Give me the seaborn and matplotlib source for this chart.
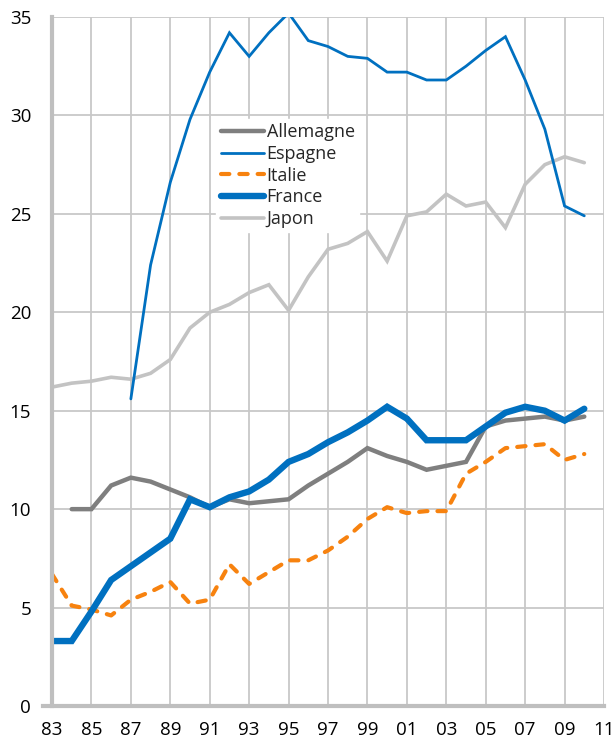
import numpy as np
import pandas as pd
import matplotlib
matplotlib.use("Agg")
import matplotlib.pyplot as plt
import seaborn as sns

# DATA
years = list(range(1983, 2011))
allemagne = [None, 10.0, 10.0, 11.2, 11.6, 11.4, 11.0, 10.6, 10.1, 10.5, 10.3, 10.4, 10.5, 11.2,
             11.8, 12.4, 13.1, 12.7, 12.4, 12.0, 12.2, 12.4, 14.2, 14.5, 14.6, 14.7, 14.5, 14.7]
espagne = [None, None, None, None, 15.6, 22.4, 26.6, 29.8, 32.2, 34.2, 33.0, 34.2, 35.2, 33.8,
           33.5, 33.0, 32.9, 32.2, 32.2, 31.8, 31.8, 32.5, 33.3, 34.0, 31.8, 29.3, 25.4, 24.9]
italie = [6.7, 5.1, 4.9, 4.6, 5.4, 5.8, 6.3, 5.2, 5.4, 7.2, 6.2, 6.8, 7.4, 7.4,
          7.9, 8.6, 9.5, 10.1, 9.8, 9.9, 9.9, 11.8, 12.4, 13.1, 13.2, 13.3, 12.5, 12.8]
france = [3.3, 3.3, 4.8, 6.4, 7.1, 7.8, 8.5, 10.5, 10.1, 10.6, 10.9, 11.5, 12.4, 12.8,
          13.4, 13.9, 14.5, 15.2, 14.6, 13.5, 13.5, 13.5, 14.2, 14.9, 15.2, 15.0, 14.5, 15.1]
japon = [16.2, 16.4, 16.5, 16.7, 16.6, 16.9, 17.6, 19.2, 20.0, 20.4, 21.0, 21.4, 20.1, 21.8,
         23.2, 23.5, 24.1, 22.6, 24.9, 25.1, 26.0, 25.4, 25.6, 24.3, 26.5, 27.5, 27.9, 27.6]
xtick_years = list(range(1983, 2012, 2))
xtick_labels = [f"{y % 100:02d}" for y in xtick_years]

sns.set_theme(style="white")
plt.rcParams['font.family'] = ['Open Sans', 'DejaVu Sans']

fig = plt.figure(figsize=(6.15, 7.44), dpi=100)
ax = fig.add_axes([52 / 615, 1 - 706 / 744, 552 / 615, 689 / 744])

GRID = '#c8c8c8'
ax.set_axisbelow(True)
ax.grid(True, color=GRID, linewidth=1.3)

series = [
    ('Japon', japon, dict(color='#c3c3c3', linewidth=2.6)),
    ('Allemagne', allemagne, dict(color='#7f7f7f', linewidth=3.2)),
    ('Italie', italie, dict(color='#f7820f', linewidth=3.0, dashes=(2.0, 2.4))),
    ('Espagne', espagne, dict(color='#0070c0', linewidth=2.0)),
    ('France', france, dict(color='#0070c0', linewidth=4.6)),
]
handles = {}
for name, vals, style in series:
    df = pd.DataFrame({'year': years, 'value': vals}).dropna()
    dashes = style.pop('dashes', None)
    sns.lineplot(data=df, x='year', y='value', ax=ax, label=name, **style)
    line = ax.lines[-1]
    line.set_solid_joinstyle('miter')
    if dashes:
        line.set_dashes(dashes)
        line.set_dash_capstyle('round')
    handles[name] = line

order = ['Allemagne', 'Espagne', 'Italie', 'France', 'Japon']
leg = ax.legend([handles[n] for n in order], order, loc='upper left',
                bbox_to_anchor=(0.298, 0.852), frameon=True, fontsize=13,
                handlelength=2.4, handletextpad=0.12, labelspacing=0.2,
                borderpad=0.25, borderaxespad=0)
leg.get_frame().set_facecolor('white')
leg.get_frame().set_edgecolor('white')
leg.get_frame().set_alpha(1)

ax.set_xlim(1983, 2011)
ax.set_ylim(0, 35)
ax.set_xticks(xtick_years)
ax.set_xticklabels(xtick_labels)
ax.set_yticks(range(0, 36, 5))
ax.set_xlabel('')
ax.set_ylabel('')
ax.tick_params(axis='x', length=0, pad=11, labelsize=13.5, colors='black')
ax.tick_params(axis='y', length=8, width=1.3, color=GRID, pad=7, labelsize=13.5, labelcolor='black')

for side in ['top', 'right']:
    ax.spines[side].set_visible(False)
for side in ['left', 'bottom']:
    ax.spines[side].set_color('#bfbfbf')
    ax.spines[side].set_linewidth(3)
ax.spines['bottom'].set_bounds(1982.55, 2011)

fig.savefig('out.png', dpi=100)
